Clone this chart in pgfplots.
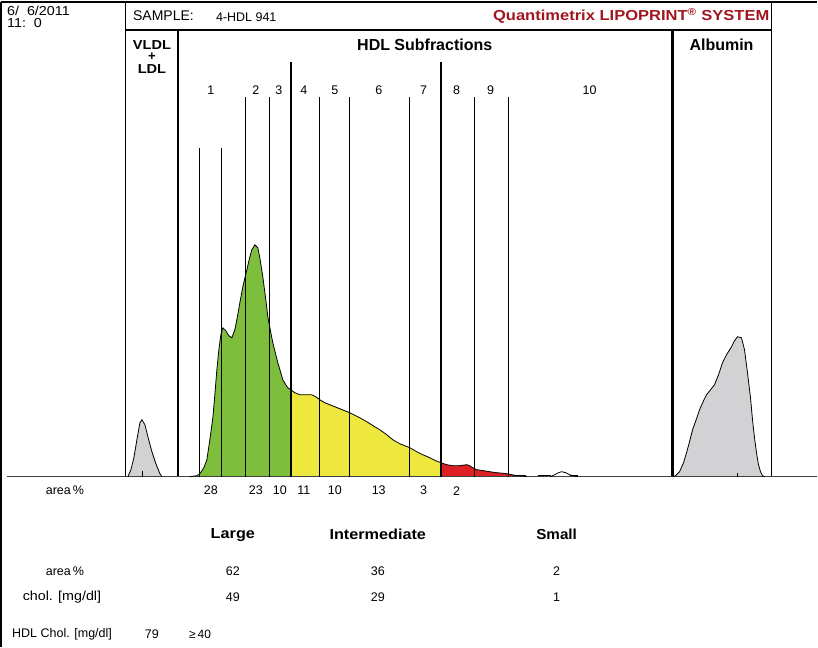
\documentclass[border=0pt]{standalone}
\usepackage{fontspec}
\setmainfont{Liberation Sans}
\usepackage{graphicx}
\usepackage{pgfplots}
\pgfplotsset{compat=1.18}
\definecolor{hdlgreen}{RGB}{125,190,60}
\definecolor{hdlyellow}{RGB}{238,232,62}
\definecolor{hdlred}{RGB}{222,32,36}
\definecolor{lgray}{RGB}{210,210,213}
\definecolor{qred}{RGB}{160,22,32}
\newcommand{\fs}[1]{\fontsize{#1}{#1}\selectfont}
\begin{document}
\begin{tikzpicture}
\begin{axis}[scale only axis, width=818pt, height=647pt,
  xmin=0, xmax=818, ymin=0, ymax=647, y dir=reverse,
  hide axis, clip=false]
\path (axis cs:0,0) rectangle (axis cs:818,647);
% ---- fills ----
\addplot[fill=lgray, draw=none] coordinates {(128,477)(131,470)(134,458)(137,440)(140,423)(142,420)(145,425)(148,437)(152,452)(156,464)(160,474)(162,477)};
\addplot[fill=hdlgreen, draw=none] coordinates {(197,477)(200,474)(204,468)(207,460)(210,440)(213,418)(215,395)(217,370)(219,350)(221,335)(223,328)(226,331)(229,336)(232,338)(235,330)(237,320)(240,303)(243,287)(247,270)(250,257)(252,250)(255,245)(258,248)(260,258)(263,277)(266,300)(268,317)(271,333)(273,343)(276,355)(278,363)(281,373)(283,380)(286,385)(288,388)(291,390)(291,477)};
\addplot[fill=hdlyellow, draw=none] coordinates {(291,390)(295,393)(300,395)(306,395)(312,395)(316,397)(320,400)(325,403)(330,405)(340,409)(350,413)(360,418)(367,422)(375,427)(380,430)(387,435)(393,440)(400,444)(410,448)(417,452)(423,455)(430,458)(436,461)(441,463)(441,477)(291,477)};
\addplot[fill=hdlred, draw=none] coordinates {(441,463)(447,465)(453,466)(460,466)(467,465)(470,466)(473,468)(477,470)(484,471)(490,472)(497,473)(507,474)(512,475)(517,476)(522,476)(527,477)(441,477)};
\addplot[fill=lgray, draw=none] coordinates {(673,477)(676,476)(680,472)(684,463)(687,453)(690,442)(693,430)(697,419)(700,410)(704,401)(707,395)(711,390)(715,385)(719,375)(723,363)(727,355)(732,347)(735,341)(738,337)(742,338)(745,350)(748,373)(751,398)(753,420)(755,438)(757,453)(759,465)(761,472)(763,476)(765,477)};
% ---- frame ----
\draw[line width=1.1pt] (axis cs:1,2) -- (axis cs:818,2);
\draw[line width=1.1pt] (axis cs:1,2) -- (axis cs:1,647);
\draw[line width=1.1pt] (axis cs:126,2) -- (axis cs:126,477);
\draw[line width=1.1pt] (axis cs:126,30) -- (axis cs:772,30);
\draw[line width=1.1pt] (axis cs:772,2) -- (axis cs:772,477);
\draw[line width=2.4pt] (axis cs:178,30) -- (axis cs:178,477);
\draw[line width=2.4pt] (axis cs:673,30) -- (axis cs:673,477);
\draw[line width=1pt, black!75] (axis cs:7,477) -- (axis cs:818,477);
% ---- fraction dividers ----
\foreach \xx in {200,222} {\edef\tmp{\noexpand\draw[line width=1pt] (axis cs:\xx,148) -- (axis cs:\xx,477);}\tmp}
\foreach \xx in {246,270,320,350,410,475,509} {\edef\tmp{\noexpand\draw[line width=1pt] (axis cs:\xx,97) -- (axis cs:\xx,477);}\tmp}
\foreach \xx in {291,441} {\edef\tmp{\noexpand\draw[line width=2.4pt] (axis cs:\xx,62) -- (axis cs:\xx,477);}\tmp}
% ---- outlines ----
\addplot[black, line width=0.8pt] coordinates {(128,477)(131,470)(134,458)(137,440)(140,423)(142,420)(145,425)(148,437)(152,452)(156,464)(160,474)(162,477)};
\addplot[black, line width=0.8pt] coordinates {(190,477)(197,476)(200,474)(204,468)(207,460)(210,440)(213,418)(215,395)(217,370)(219,350)(221,335)(223,328)(226,331)(229,336)(232,338)(235,330)(237,320)(240,303)(243,287)(247,270)(250,257)(252,250)(255,245)(258,248)(260,258)(263,277)(266,300)(268,317)(271,333)(273,343)(276,355)(278,363)(281,373)(283,380)(286,385)(288,388)(291,390)(295,393)(300,395)(306,395)(312,395)(316,397)(320,400)(325,403)(330,405)(340,409)(350,413)(360,418)(367,422)(375,427)(380,430)(387,435)(393,440)(400,444)(410,448)(417,452)(423,455)(430,458)(436,461)(441,463)(447,465)(453,466)(460,466)(467,465)(470,466)(473,468)(477,470)(484,471)(490,472)(497,473)(507,474)(512,475)(517,476)(522,476)(527,477)};
\addplot[black, line width=1.6pt] coordinates {(513,476)(526,476)};
\addplot[black, line width=1.6pt] coordinates {(538,476)(551,476)};
\addplot[black, line width=0.8pt] coordinates {(551,477)(555,475)(559,473)(562,472)(566,473)(570,475)(575,476.5)(578,477)};
\addplot[black, line width=1.6pt] coordinates {(570,476)(578,476)};
\addplot[black, line width=0.8pt] coordinates {(673,477)(676,476)(680,472)(684,463)(687,453)(690,442)(693,430)(697,419)(700,410)(704,401)(707,395)(711,390)(715,385)(719,375)(723,363)(727,355)(732,347)(735,341)(738,337)(742,338)(745,350)(748,373)(751,398)(753,420)(755,438)(757,453)(759,465)(761,472)(763,476)(765,477)};
\draw[line width=0.8pt] (axis cs:142,471) -- (axis cs:142,477);
\draw[line width=0.8pt] (axis cs:738,473) -- (axis cs:738,477);
% ---- header text ----
\node[anchor=west, inner sep=0pt] at (axis cs:7,11) {\fs{13}\scalebox{1.1}[1]{6/~~6/2011}};
\node[anchor=west, inner sep=0pt] at (axis cs:7,23) {\fs{13}\scalebox{1.1}[1]{11:~~0}};
\node[anchor=west, inner sep=0pt] at (axis cs:133,16) {\fs{14}SAMPLE:};
\node[anchor=west, inner sep=0pt] at (axis cs:216,17) {\fs{12.5}4-HDL 941};
\node[anchor=east, inner sep=0pt, text=qred] at (axis cs:770,16) {\fs{14.5}\bfseries\scalebox{1.14}[1]{Quantimetrix LIPOPRINT\textsuperscript{\textregistered}\ SYSTEM}};
\node[inner sep=0pt, font=\bfseries] at (axis cs:425,45) {\fs{16}HDL Subfractions};
\node[inner sep=0pt, font=\bfseries] at (axis cs:722,45) {\fs{16}Albumin};
\node[inner sep=0pt, font=\bfseries] at (axis cs:152,45) {\fs{13}\scalebox{1.12}[1]{VLDL}};
\node[inner sep=0pt, font=\bfseries] at (axis cs:152,57) {\fs{13}+};
\node[inner sep=0pt, font=\bfseries] at (axis cs:152,69) {\fs{13}\scalebox{1.12}[1]{LDL}};
% ---- fraction numbers ----
\foreach \xx/\lab in {211/1,256/2,279/3,304/4,335/5,379/6,424/7,457/8,491/9,590/10} {\edef\tmp{\noexpand\node[inner sep=0pt] at (axis cs:\xx,90) {\noexpand\fs{12.5}\lab};}\tmp}
% ---- area % row ----
\node[inner sep=0pt] at (axis cs:65,491) {\fs{12.5}area\,\%};
\foreach \xx/\lab in {211/28,256/23,280/10,304/11,335/10,379/13,424/3,457/2} {\edef\tmp{\noexpand\node[inner sep=0pt] at (axis cs:\xx,491) {\noexpand\fs{12.5}\lab};}\tmp}
% ---- summary table ----
\node[inner sep=0pt, font=\bfseries] at (axis cs:233,535) {\fs{14.5}\scalebox{1.12}[1]{Large}};
\node[inner sep=0pt, font=\bfseries] at (axis cs:378,535) {\fs{14.5}\scalebox{1.12}[1]{Intermediate}};
\node[inner sep=0pt, font=\bfseries] at (axis cs:557,535) {\fs{14.5}\scalebox{1.05}[1]{Small}};
\node[inner sep=0pt] at (axis cs:65,572) {\fs{12.5}area\,\%};
\node[inner sep=0pt] at (axis cs:233,572) {\fs{12.5}62};
\node[inner sep=0pt] at (axis cs:378,572) {\fs{12.5}36};
\node[inner sep=0pt] at (axis cs:557,572) {\fs{12.5}2};
\node[inner sep=0pt] at (axis cs:62,598) {\fs{13}\scalebox{1.1}[1]{chol. [mg/dl]}};
\node[inner sep=0pt] at (axis cs:233,598) {\fs{12.5}49};
\node[inner sep=0pt] at (axis cs:378,598) {\fs{12.5}29};
\node[inner sep=0pt] at (axis cs:557,598) {\fs{12.5}1};
\node[anchor=west, inner sep=0pt] at (axis cs:12,635) {\fs{12.5}HDL Chol. [mg/dl]};
\node[inner sep=0pt] at (axis cs:152,635) {\fs{12.5}79};
\node[anchor=west, inner sep=0pt] at (axis cs:189,635) {\fs{12}≥\,40};
\end{axis}
\end{tikzpicture}
\end{document}
